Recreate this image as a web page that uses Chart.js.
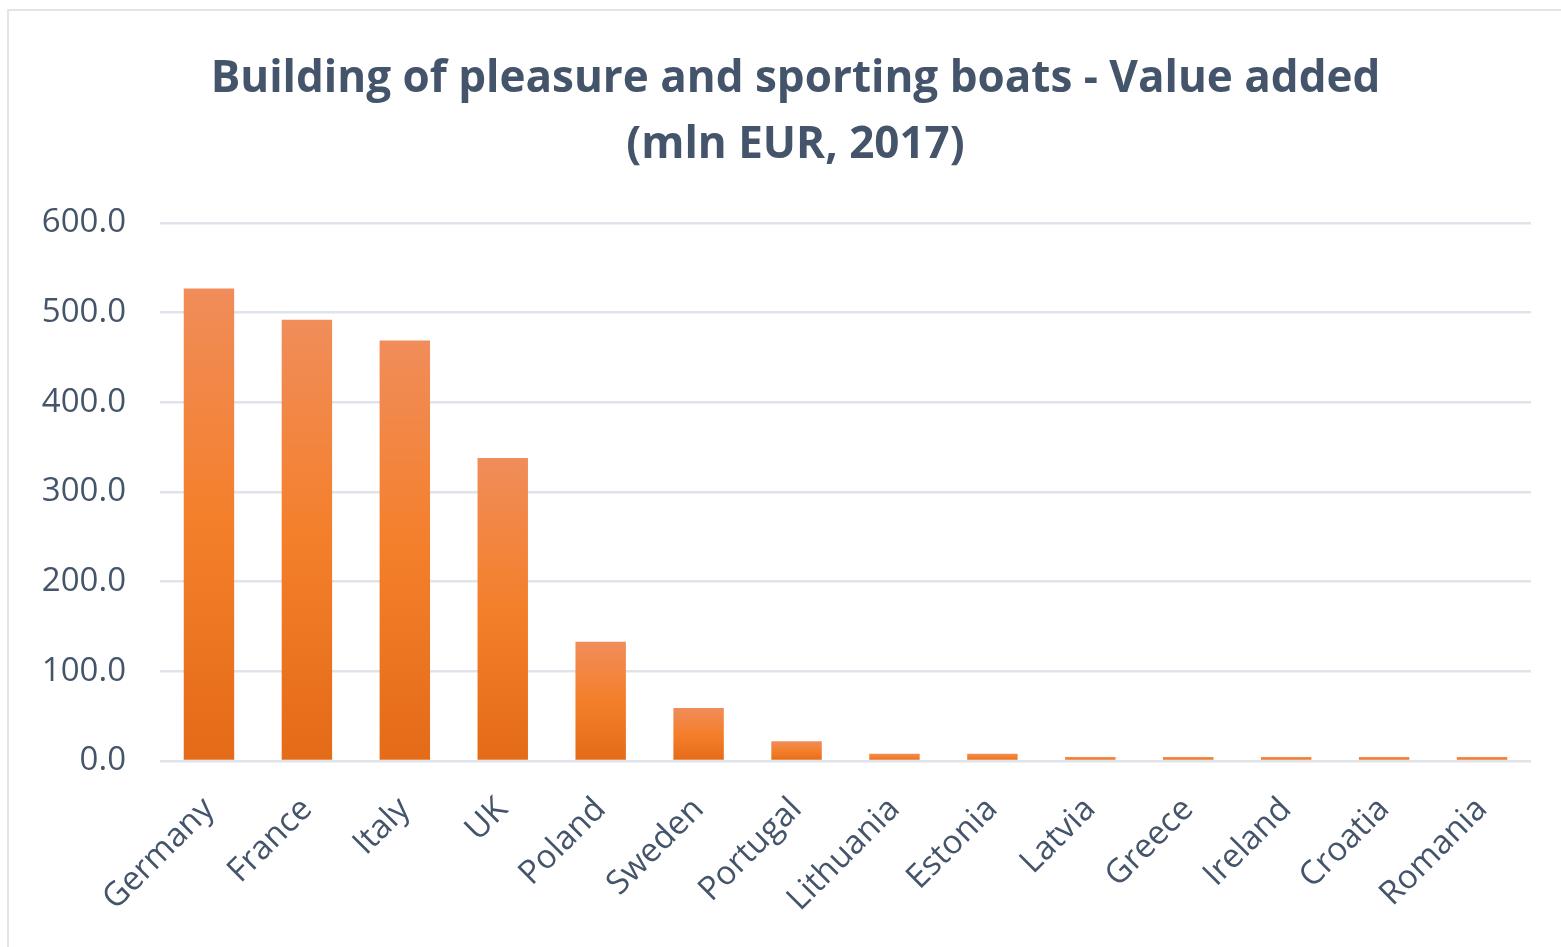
<!DOCTYPE html>
<html>
<head>
<meta charset="utf-8">
<script src="https://cdn.jsdelivr.net/npm/chart.js@4"></script>
<style>
  html, body { margin:0; padding:0; background:#fff; overflow:hidden; }
  #wrap { position:absolute; left:0; top:0; width:1561px; height:947px; overflow:hidden; }
  #frame { position:absolute; left:7px; top:9px; width:1570px; height:960px; border:2px solid #e1e4e8; box-sizing:border-box; }
  canvas { position:absolute; left:0; top:0; }
</style>
</head>
<body>
<div id="wrap">
  <div id="frame"></div>
  <canvas id="c" width="1561" height="947"></canvas>
</div>
<script>
const categories = ["Germany","France","Italy","UK","Poland","Sweden","Portugal","Lithuania","Estonia","Latvia","Greece","Ireland","Croatia","Romania"];
const values = [527, 492, 469, 338, 133, 59, 22, 8, 8, 4.5, 4.5, 4.5, 4.5, 4.5];
const titleLines = ["Building of pleasure and sporting boats - Value added", "(mln EUR, 2017)"];
const yTicks = [0, 100, 200, 300, 400, 500, 600];

const textColor = "#44546a";
const fontFam = "'Open Sans', Lato, sans-serif";

function barGradient(context) {
  const chart = context.chart;
  const ys = chart.scales.y;
  if (!ys || !chart.chartArea) return "#f47f2a";
  const v = context.raw;
  const top = ys.getPixelForValue(v);
  const base = ys.getPixelForValue(0);
  if (!isFinite(top) || !isFinite(base) || base - top < 1) return "#f27d2c";
  const g = chart.ctx.createLinearGradient(0, top, 0, base);
  g.addColorStop(0, "#f08d5a");
  g.addColorStop(0.5, "#f47f2a");
  g.addColorStop(1, "#e46b18");
  return g;
}

// shift the title box so its centre sits where the original's does
const titleShift = {
  id: "titleShift",
  afterLayout(chart) {
    if (chart.titleBlock) { chart.titleBlock.left += 30; }
  }
};

new Chart(document.getElementById("c"), {
  type: "bar",
  data: {
    labels: categories,
    datasets: [{
      data: values,
      backgroundColor: barGradient,
      borderWidth: 0,
      barPercentage: 1.0,
      categoryPercentage: 0.515
    }]
  },
  plugins: [titleShift],
  options: {
    responsive: false,
    animation: false,
    layout: { padding: { left: 30, right: 30, top: 46, bottom: 10 } },
    plugins: {
      legend: { display: false },
      tooltip: { enabled: false },
      title: {
        display: true,
        text: titleLines,
        color: textColor,
        font: { family: fontFam, size: 44, weight: "bold", lineHeight: 1.5 },
        padding: { top: 0, bottom: 45 }
      }
    },
    scales: {
      x: {
        afterFit: (s) => { s.height = 176; },
        grid: { display: false, drawTicks: false },
        border: { display: false },
        ticks: {
          color: textColor,
          font: { family: fontFam, size: 33 },
          maxRotation: 45, minRotation: 45,
          autoSkip: false,
          padding: 29
        }
      },
      y: {
        min: 0, max: 600,
        afterFit: (s) => { s.width = 130; },
        afterBuildTicks: (s) => { s.ticks = yTicks.map(v => ({ value: v })); },
        grid: { color: "#dfe3ea", lineWidth: 2.5, drawTicks: false },
        border: { display: false },
        ticks: {
          color: textColor,
          font: { family: fontFam, size: 33 },
          padding: 34,
          callback: (v) => Number(v).toFixed(1)
        }
      }
    }
  }
});
</script>
</body>
</html>
